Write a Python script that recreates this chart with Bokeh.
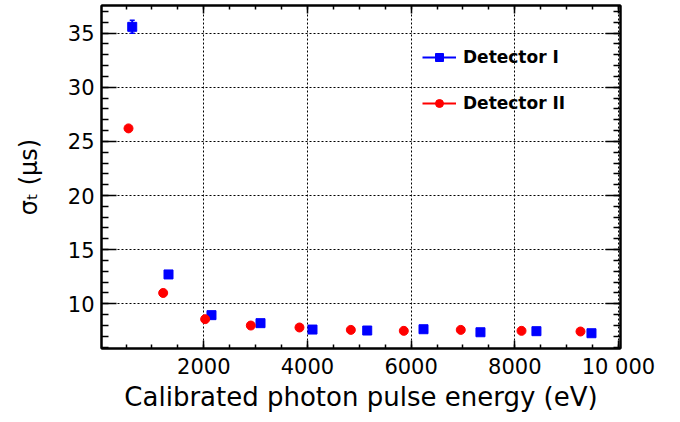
import numpy as np
from bokeh.plotting import figure
from bokeh.models import (ColumnDataSource, Range1d, LinearAxis, SingleIntervalTicker,
                          Whisker, TeeHead, Legend, LegendItem, CustomJSTickFormatter)
from bokeh.embed import file_html
from bokeh.resources import INLINE

# ---- data ----
energy_I = [619, 1319, 2148, 3094, 4097, 5153, 6239, 7338, 8418, 9480]
sigma_I = [35.58, 12.71, 8.95, 8.21, 7.62, 7.53, 7.65, 7.37, 7.47, 7.28]
err_I = [0.60, 0.25, 0.15, 0.12, 0.10, 0.10, 0.10, 0.10, 0.10, 0.10]
energy_II = [547, 1216, 2026, 2907, 3846, 4837, 5859, 6958, 8130, 9268]
sigma_II = [26.2, 11.0, 8.58, 7.99, 7.81, 7.59, 7.50, 7.59, 7.50, 7.44]
series_names = ["Detector I", "Detector II"]
x_title = "Calibrated photon pulse energy (eV)"
y_title = "σₜ (µs)"
x_tick_overrides = {10000: "10 000"}
x_lim = (26, 10040)
y_lim = (5.87, 37.55)

FONT = "DejaVu Sans"
BLUE = "#0000ff"
RED = "#ff0000"

p = figure(width=680, height=422, output_backend="svg", toolbar_location=None,
           x_range=Range1d(*x_lim), y_range=Range1d(*y_lim),
           x_axis_location=None, y_axis_location=None,
           min_border_left=101, min_border_right=60, min_border_top=5, min_border_bottom=74)
p.background_fill_color = "white"
p.border_fill_color = "white"
p.outline_line_color = "black"
p.outline_line_width = 2

xt = SingleIntervalTicker(interval=2000, num_minor_ticks=4)
yt = SingleIntervalTicker(interval=5, num_minor_ticks=5)
blank = CustomJSTickFormatter(code="return ''")

def style_axis(ax, major_len, minor_len, show_labels, standoff):
    ax.axis_line_color = "black"
    ax.axis_line_width = 2
    ax.major_tick_in = major_len
    ax.major_tick_out = 0
    ax.minor_tick_in = minor_len
    ax.minor_tick_out = 0
    ax.major_tick_line_width = 1.5
    ax.minor_tick_line_width = 1.5
    ax.major_tick_line_color = "black"
    ax.minor_tick_line_color = "black"
    ax.major_label_standoff = standoff
    if show_labels:
        ax.major_label_text_font = FONT
        ax.major_label_text_font_size = "21px"
        ax.major_label_text_color = "black"
        ax.axis_label_text_font = FONT
        ax.axis_label_text_font_style = "normal"
        ax.axis_label_text_color = "black"
    else:
        ax.formatter = blank
        ax.major_label_text_font_size = "1px"

xb = LinearAxis(ticker=xt, major_label_overrides=x_tick_overrides, axis_label=x_title)
style_axis(xb, 8, 4, True, 6)
xb.axis_label_text_font_size = "26px"
xb.axis_label_standoff = 0
p.add_layout(xb, "below")
xa = LinearAxis(ticker=xt)
style_axis(xa, 8, 4, False, 0)
p.add_layout(xa, "above")
yl = LinearAxis(ticker=yt, axis_label=y_title)
style_axis(yl, 15, 7, True, 7)
yl.axis_label_text_font_size = "24px"
yl.axis_label_standoff = 22
p.add_layout(yl, "left")
yr = LinearAxis(ticker=yt)
style_axis(yr, 15, 7, False, 0)
p.add_layout(yr, "right")

p.xgrid.ticker = xt
p.ygrid.ticker = yt
for g in (p.xgrid, p.ygrid):
    g.grid_line_color = "black"
    g.grid_line_width = 1
    g.grid_line_dash = "2 2"

src_I = ColumnDataSource(dict(x=energy_I, y=sigma_I,
                              lo=[s - e for s, e in zip(sigma_I, err_I)],
                              hi=[s + e for s, e in zip(sigma_I, err_I)]))
src_II = ColumnDataSource(dict(x=energy_II, y=sigma_II))

wh = Whisker(source=src_I, base="x", lower="lo", upper="hi", dimension="height",
             line_color=BLUE, line_width=2,
             upper_head=TeeHead(size=5, line_color=BLUE, line_width=1.5),
             lower_head=TeeHead(size=5, line_color=BLUE, line_width=1.5))
p.add_layout(wh)

r_sq = p.scatter("x", "y", source=src_I, marker="square", size=9,
                 fill_color=BLUE, line_color=BLUE)
r_ci = p.scatter("x", "y", source=src_II, marker="circle", size=9,
                 fill_color=RED, line_color=RED)

# legend-only line glyphs (no visible data)
nan_src = dict(x=np.array([np.nan]), y=np.array([np.nan]))
l_I = p.line(x="x", y="y", source=ColumnDataSource(nan_src), line_color=BLUE, line_width=2)
l_II = p.line(x="x", y="y", source=ColumnDataSource(dict(nan_src)), line_color=RED, line_width=2)

legend = Legend(items=[LegendItem(label=series_names[0], renderers=[l_I, r_sq]),
                       LegendItem(label=series_names[1], renderers=[l_II, r_ci])],
                location=(321, 235), orientation="vertical",
                glyph_width=34, glyph_height=20, label_height=20, label_standoff=7,
                spacing=26, padding=0, margin=0,
                border_line_color=None, background_fill_alpha=0,
                label_text_font=FONT, label_text_font_style="bold",
                label_text_font_size="17px", label_text_color="black")
p.add_layout(legend, "center")

open("out.html", "w").write(file_html(p, INLINE))
